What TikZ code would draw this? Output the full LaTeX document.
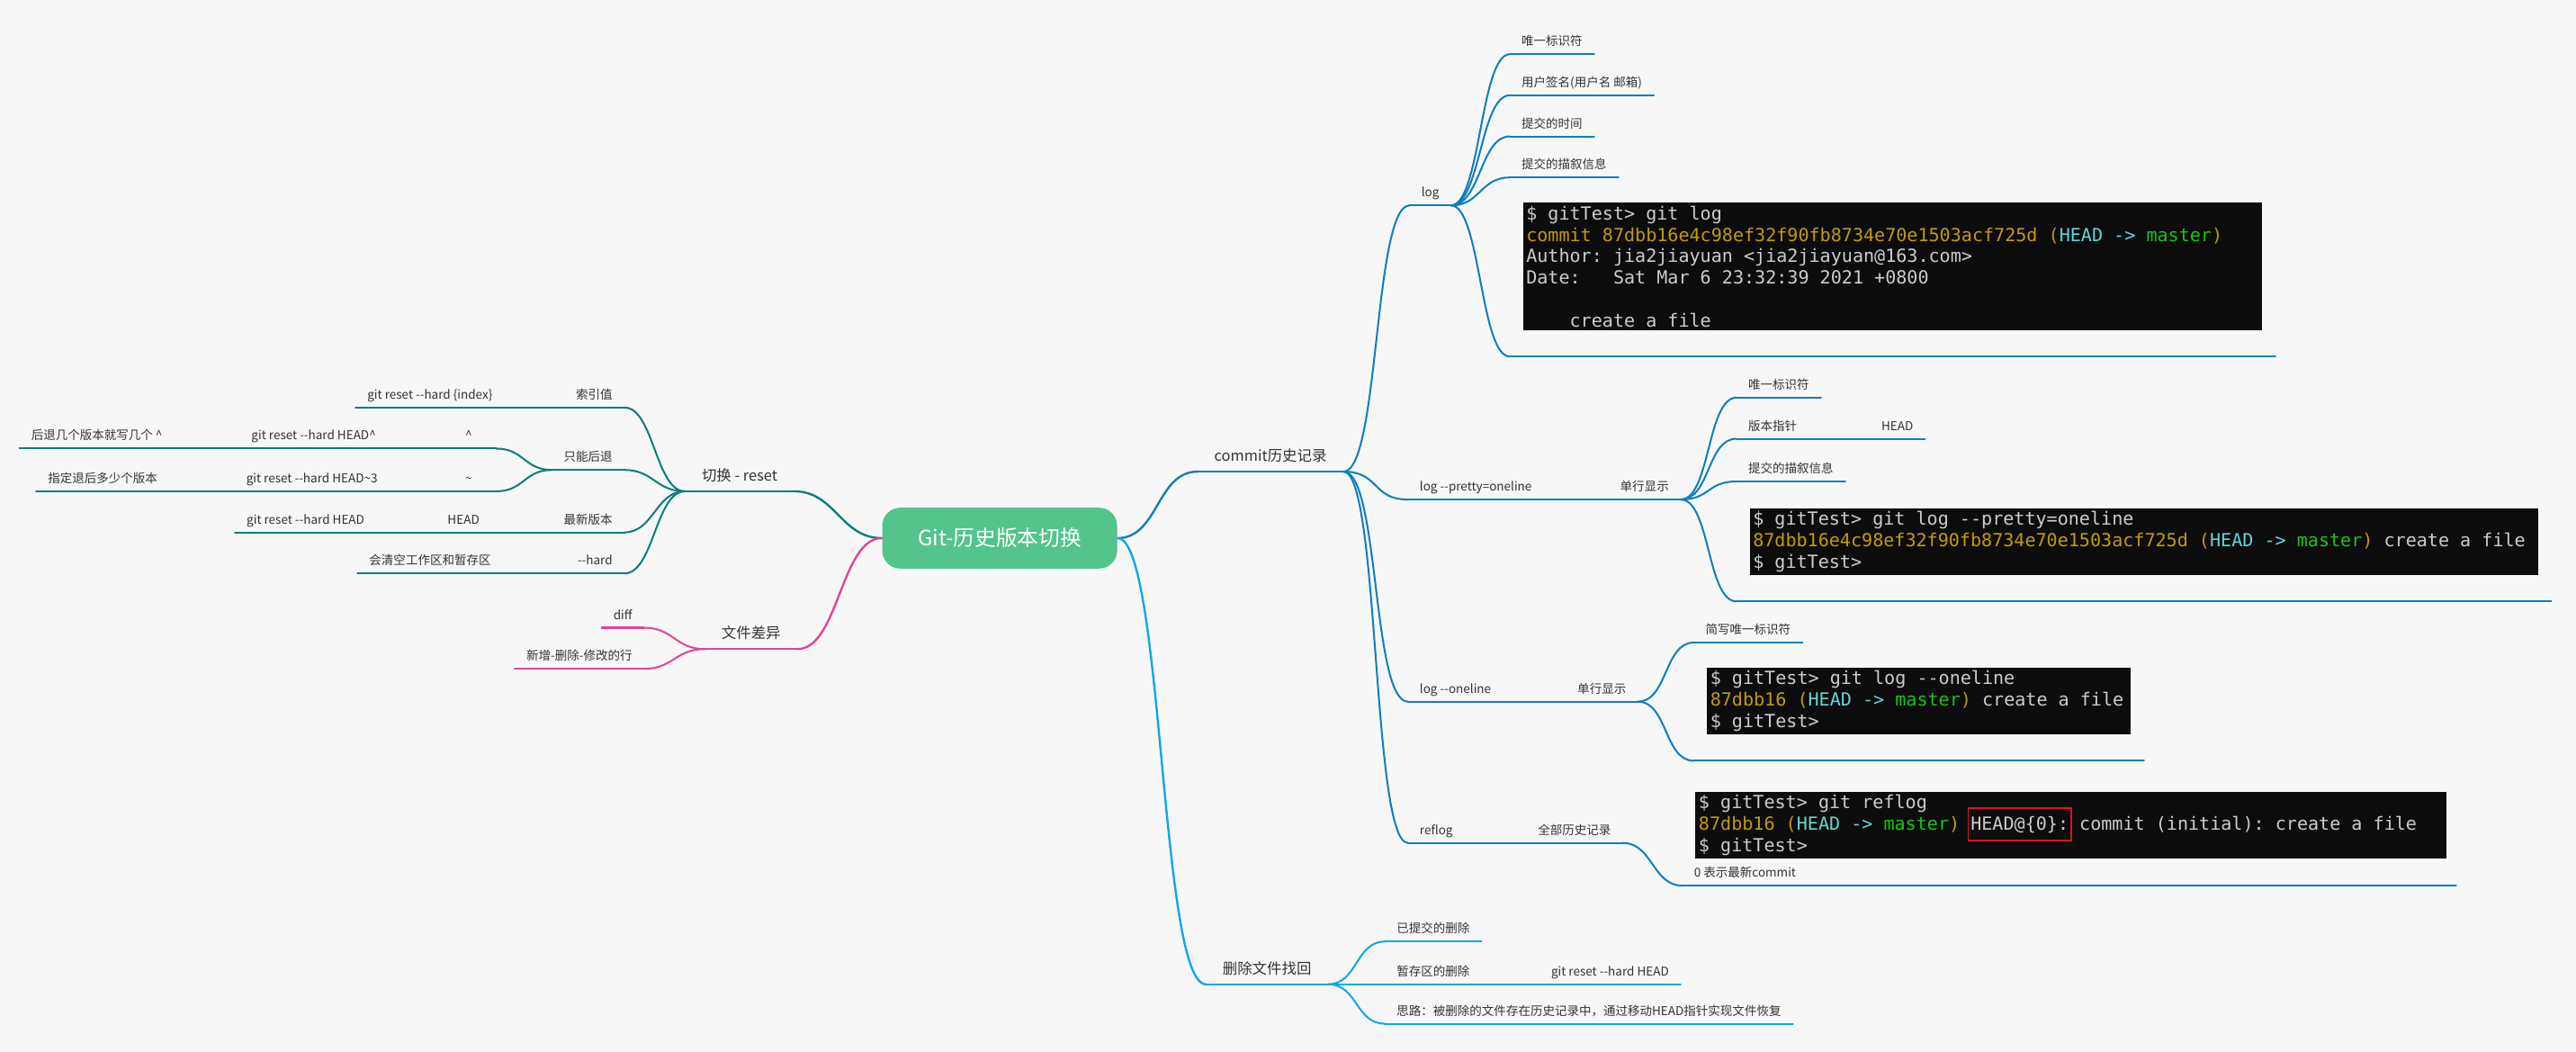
\documentclass[tikz,border=0pt]{standalone}
\usepackage{fontspec}
\setmainfont{Noto Sans CJK SC}
\setmonofont{DejaVu Sans Mono}
\usepackage{xcolor}
\usepackage{tikz}

\definecolor{bggray}{HTML}{F7F7F7}
\definecolor{lblgray}{HTML}{333333}
\definecolor{rootgreen}{HTML}{52C48C}
\definecolor{rstteal}{HTML}{0E7B7B}
\definecolor{difpink}{HTML}{E0449A}
\definecolor{cmtblue}{HTML}{0F7DC2}
\definecolor{delblue}{HTML}{0AA8EC}
\definecolor{termbg}{HTML}{0C0C0C}
\definecolor{termfg}{HTML}{CCCCCC}
\definecolor{termyel}{HTML}{C19C00}
\definecolor{termcyan}{HTML}{61D6D6}
\definecolor{termgreen}{HTML}{16C60C}
\definecolor{termred}{HTML}{E01020}

% terminal font
\DeclareRobustCommand{\termfont}{\fontsize{11}{13}\selectfont\ttfamily}
% full-width spaces (align=left shrinks them)
\newcommand{\termsp}{\spaceskip=0.602em\xspaceskip=0.602em\relax}
% red frame round HEAD@{0}:
\newcommand{\headmark}[1]{\hspace{-2pt}{\setlength{\fboxsep}{1pt}\setlength{\fboxrule}{1pt}\smash{\fcolorbox{termred}{termbg}{\rule[-5pt]{0pt}{17pt}#1}}}\hspace{-2pt}}

\begin{document}
\begin{tikzpicture}[x=1pt, y=-1pt]

% Defined styles
\tikzstyle{rootbox} = [rectangle, rounded corners=11pt, fill=rootgreen, text=white, minimum width=143pt, minimum height=37pt, inner sep=0pt, font=\fontsize{13}{15}\selectfont]
\tikzstyle{mainlbl} = [inner xsep=10pt, inner ysep=0pt, text height=7pt, text depth=6pt, text=lblgray, font=\fontsize{9}{11}\selectfont]
\tikzstyle{leaflbl} = [inner xsep=7pt, inner ysep=0pt, text height=6pt, text depth=5pt, text=lblgray, font=\fontsize{7.4}{9}\selectfont]
\tikzstyle{termbox} = [fill=termbg, text=termfg, align=left, inner xsep=2pt, inner ysep=2pt, outer xsep=8pt, outer ysep=16pt, font=\termfont]
\tikzstyle{rstline} = [draw=rstteal, line width=1.1pt, line cap=round]
\tikzstyle{difline} = [draw=difpink, line width=1.1pt, line cap=round]
\tikzstyle{cmtline} = [draw=cmtblue, line width=1.1pt, line cap=round]
\tikzstyle{delline} = [draw=delblue, line width=1.1pt, line cap=round]

\fill[bggray] (0,0) rectangle (1568,640);
\useasboundingbox (0,0) rectangle (1568,640);

% --- Root ---
\node[rootbox] (root) at (608.5,327.5) {Git-历史版本切换};

% --- Left: reset ---
\node[mainlbl, anchor=south west] (reset) at (417,299) {切换 - reset};
\node[leaflbl, anchor=south east] (idx) at (380,248) {索引值};
\node[leaflbl, anchor=south east] (idxcmd) at (307,248) {git reset -{}-hard \{index\}};
\node[leaflbl, anchor=south east] (back) at (380,286) {只能后退};
\node[leaflbl, anchor=south east, minimum width=33pt] (caret) at (302,273) {\textasciicircum};
\node[leaflbl, anchor=south east] (caretcmd) at (236,273) {git reset -{}-hard HEAD\textasciicircum};
\node[leaflbl, anchor=south east] (caretnote) at (106,273) {后退几个版本就写几个 \textasciicircum};
\node[leaflbl, anchor=south east, minimum width=33pt] (tilde) at (302,299) {\textasciitilde};
\node[leaflbl, anchor=south east] (tildecmd) at (237,299) {git reset -{}-hard HEAD\textasciitilde3};
\node[leaflbl, anchor=south east] (tildenote) at (103,299) {指定退后多少个版本};
\node[leaflbl, anchor=south east] (latest) at (380,324) {最新版本};
\node[leaflbl, anchor=south east] (head) at (299,324) {HEAD};
\node[leaflbl, anchor=south east] (headcmd) at (229,324) {git reset -{}-hard HEAD};
\node[leaflbl, anchor=south east] (hard) at (380,349) {-{}-hard};
\node[leaflbl, anchor=south east] (hardnote) at (306,349) {会清空工作区和暂存区};

\draw[rstline, line width=1.3pt] (root.west) .. controls +(-25,0) and +(25,0) .. (reset.south east);
\foreach \n in {idx,back,latest,hard}
  \draw[rstline] (reset.south west) .. controls +(-18,0) and +(18,0) .. (\n.south east);
\foreach \n in {caret,tilde}
  \draw[rstline] (back.south west) .. controls +(-17,0) and +(17,0) .. (\n.south east);
\draw[rstline] (idx.south west) -- (idxcmd.south east);
\draw[rstline] (caret.south west) -- (caretcmd.south east);
\draw[rstline] (caretcmd.south west) -- (caretnote.south east);
\draw[rstline] (tilde.south west) -- (tildecmd.south east);
\draw[rstline] (tildecmd.south west) -- (tildenote.south east);
\draw[rstline] (latest.south west) -- (head.south east);
\draw[rstline] (head.south west) -- (headcmd.south east);
\draw[rstline] (hard.south west) -- (hardnote.south east);
\foreach \n in {idx,idxcmd,back,caret,caretcmd,caretnote,tilde,tildecmd,tildenote,latest,head,headcmd,hard,hardnote}
  \draw[rstline] (\n.south west) -- (\n.south east);
\draw[rstline, line width=1.3pt] (reset.south west) -- (reset.south east);

% --- Left: diff ---
\node[mainlbl, anchor=south west] (diffs) at (429,395) {文件差异};
\node[leaflbl, anchor=south east] (diff) at (392,382) {diff};
\node[leaflbl, anchor=south east] (diffrows) at (392,407) {新增-删除-修改的行};

\draw[difline, line width=1.3pt] (root.west) .. controls +(-25,0) and +(25,0) .. (diffs.south east);
\foreach \n in {diff,diffrows}
  \draw[difline] (diffs.south west) .. controls +(-18,0) and +(18,0) .. (\n.south east);
\foreach \n in {diff,diffrows}
  \draw[difline] (\n.south west) -- (\n.south east);
\draw[difline, line width=1.3pt] (diffs.south west) -- (diffs.south east);

% --- Right: commit history ---
\node[mainlbl, anchor=south west] (commit) at (729,287) {commit历史记录};

\node[leaflbl, anchor=south west] (log) at (858,125) {log};
\node[leaflbl, anchor=south west] (uid) at (919,33) {唯一标识符};
\node[leaflbl, anchor=south west] (sign) at (919,58) {用户签名(用户名 邮箱)};
\node[leaflbl, anchor=south west] (time) at (919,83) {提交的时间};
\node[leaflbl, anchor=south west] (desc) at (919,108) {提交的描叙信息};
\node[termbox, text width=446pt, anchor=south west] (term1) at (919,217) {\termsp
\$ gitTest> git log\\
\textcolor{termyel}{commit 87dbb16e4c98ef32f90fb8734e70e1503acf725d (}\textcolor{termcyan}{HEAD -> }\textcolor{termgreen}{master}\textcolor{termyel}{)}\\
Author: jia2jiayuan <jia2jiayuan@163.com>\\
Date:\ \ \ Sat Mar 6 23:32:39 2021 +0800\\[13pt]
\phantom{abcd}create a file};

\node[leaflbl, anchor=south west] (pretty) at (857,304) {log -{}-pretty=oneline};
\node[leaflbl, anchor=south west] (single1) at (979,304) {单行显示};
\node[leaflbl, anchor=south west] (uid2) at (1057,242) {唯一标识符};
\node[leaflbl, anchor=south west] (ptr) at (1057,267) {版本指针};
\node[leaflbl, anchor=south west] (ptrhead) at (1138,267) {HEAD};
\node[leaflbl, anchor=south west] (desc2) at (1057,293) {提交的描叙信息};
\node[termbox, text width=476pt, anchor=south west] (term2) at (1057,366) {\termsp
\$ gitTest> git log --pretty=oneline\\
\textcolor{termyel}{87dbb16e4c98ef32f90fb8734e70e1503acf725d (}\textcolor{termcyan}{HEAD -> }\textcolor{termgreen}{master}\textcolor{termyel}{)} create a file\\
\$ gitTest>};

\node[leaflbl, anchor=south west] (oneline) at (857,427) {log -{}-oneline};
\node[leaflbl, anchor=south west] (single2) at (953,427) {单行显示};
\node[leaflbl, anchor=south west] (abbr) at (1031,391) {简写唯一标识符};
\node[termbox, text width=254pt, anchor=south west] (term3) at (1031,463) {\termsp
\$ gitTest> git log --oneline\\
\textcolor{termyel}{87dbb16 (}\textcolor{termcyan}{HEAD -> }\textcolor{termgreen}{master}\textcolor{termyel}{)} create a file\\
\$ gitTest>};

\node[leaflbl, anchor=south west] (reflog) at (857,513) {reflog};
\node[leaflbl, anchor=south west] (all) at (929,513) {全部历史记录};
\node[leaflbl, anchor=south west] (zero) at (1024,539) {0 表示最新commit};
\node[termbox, text width=453pt, outer ysep=0pt, outer xsep=6pt, anchor=south west] (term4) at (1026,522.5) {\termsp
\$ gitTest> git reflog\\
\textcolor{termyel}{87dbb16 (}\textcolor{termcyan}{HEAD -> }\textcolor{termgreen}{master}\textcolor{termyel}{)} \headmark{HEAD@\{0\}:} commit (initial): create a file\\
\$ gitTest>};

\draw[cmtline, line width=1.3pt] (root.east) .. controls +(25,0) and +(-25,0) .. (commit.south west);
\draw[cmtline, line width=1.3pt] (commit.south west) -- (commit.south east);
\foreach \n in {log,pretty,oneline,reflog}
  \draw[cmtline] (commit.south east) .. controls +(22,0) and +(-22,0) .. (\n.south west);
\foreach \n in {uid,sign,time,desc,term1}
  \draw[cmtline] (log.south east) .. controls +(18,0) and +(-18,0) .. (\n.south west);
\foreach \n in {uid2,ptr,desc2,term2}
  \draw[cmtline] (single1.south east) .. controls +(18,0) and +(-18,0) .. (\n.south west);
\foreach \n in {abbr,term3}
  \draw[cmtline] (single2.south east) .. controls +(18,0) and +(-18,0) .. (\n.south west);
\draw[cmtline] (all.south east) .. controls +(18,0) and +(-18,0) .. (zero.south west);
\draw[cmtline] (pretty.south east) -- (single1.south west);
\draw[cmtline] (ptr.south east) -- (ptrhead.south west);
\draw[cmtline] (oneline.south east) -- (single2.south west);
\draw[cmtline] (reflog.south east) -- (all.south west);
\foreach \n in {log,uid,sign,time,desc,term1,pretty,single1,uid2,ptr,ptrhead,desc2,term2,oneline,single2,abbr,term3,reflog,all}
  \draw[cmtline] (\n.south west) -- (\n.south east);
\draw[cmtline] (zero.south west) -- (zero.south west -| term4.east);

% --- Right: restore deleted files ---
\node[mainlbl, anchor=south west] (del) at (734,599) {删除文件找回};
\node[leaflbl, anchor=south west] (committed) at (843,573) {已提交的删除};
\node[leaflbl, anchor=south west] (stage) at (843,599) {暂存区的删除};
\node[leaflbl, anchor=south west] (stagecmd) at (937,599) {git reset -{}-hard HEAD};
\node[leaflbl, anchor=south west] (idea) at (843,623) {思路：被删除的文件存在历史记录中，通过移动HEAD指针实现文件恢复};

\draw[delline, line width=1.3pt] (root.east) .. controls +(28,0) and +(-28,0) .. (del.south west);
\draw[delline, line width=1.3pt] (del.south west) -- (del.south east);
\foreach \n in {committed,stage,idea}
  \draw[delline] (del.south east) .. controls +(18,0) and +(-18,0) .. (\n.south west);
\draw[delline] (stage.south east) -- (stagecmd.south west);
\foreach \n in {committed,stage,stagecmd,idea}
  \draw[delline] (\n.south west) -- (\n.south east);

\end{tikzpicture}
\end{document}
